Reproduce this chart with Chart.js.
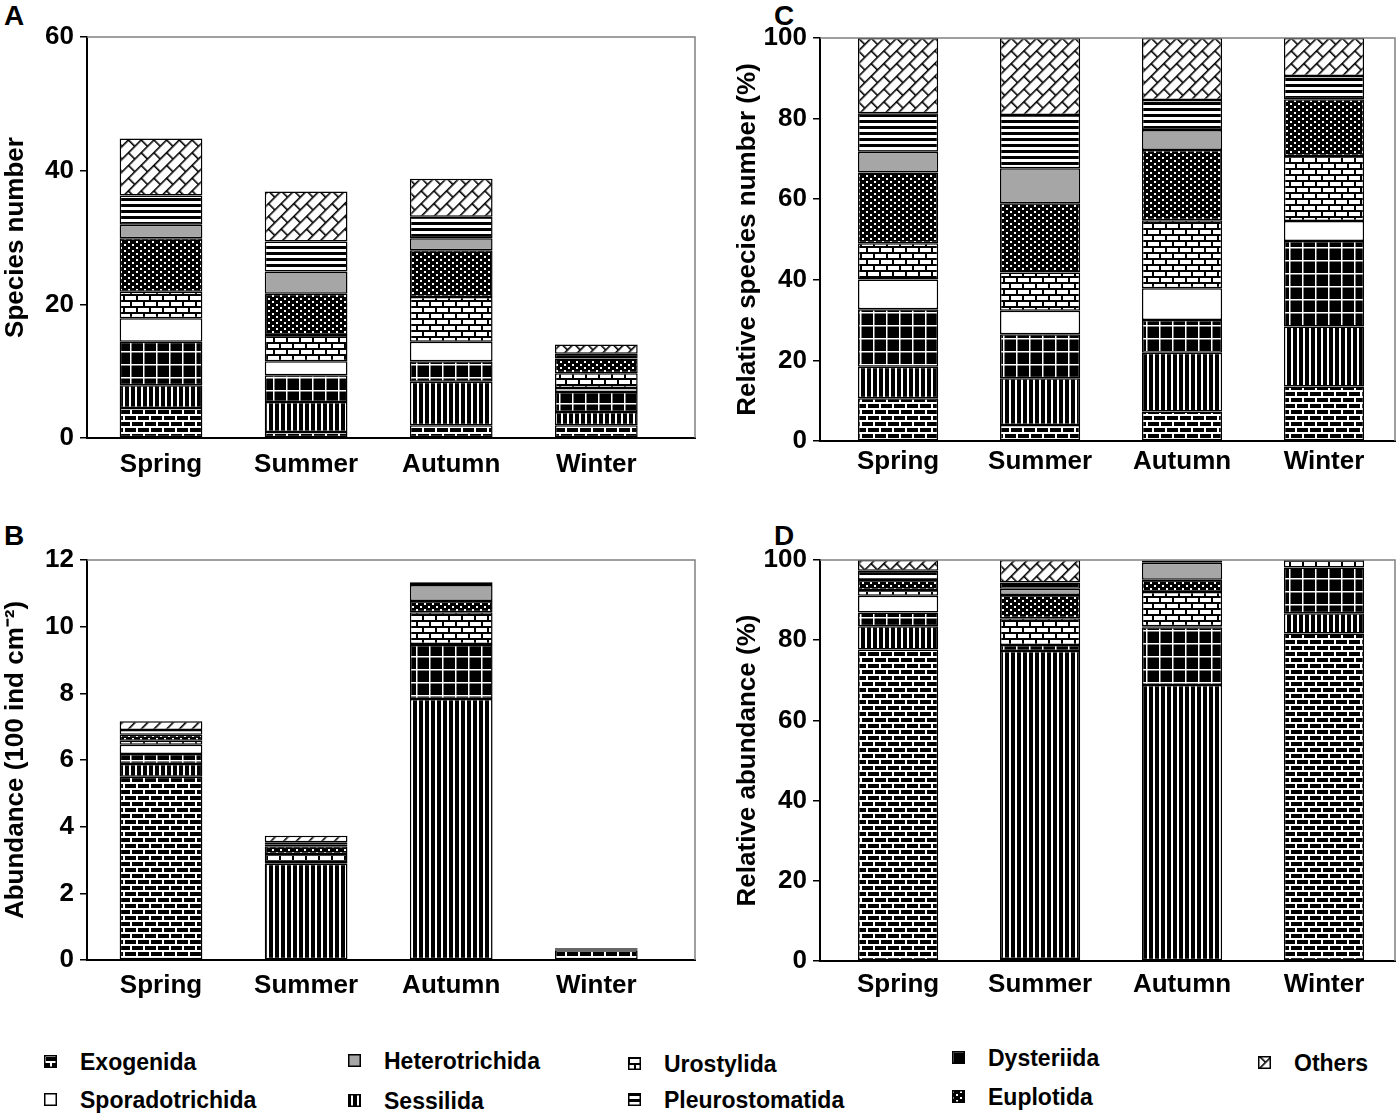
<!DOCTYPE html>
<html><head><meta charset="utf-8">
<script src="https://cdn.jsdelivr.net/npm/chart.js@4.4.1/dist/chart.umd.min.js"></script>
<style>
html,body{margin:0;padding:0;background:#fff;}
body{width:1400px;height:1115px;position:relative;overflow:hidden;font-family:'Liberation Sans',Arial,sans-serif;color:#000;}
.pn{position:absolute;}
.lt{position:absolute;font-weight:bold;font-size:28px;line-height:28px;}
.lg{position:absolute;height:26px;display:flex;align-items:center;font-weight:bold;font-size:23px;white-space:nowrap;}
.lg canvas{position:absolute;}
</style></head><body>
<div class="lt" style="left:4px;top:2px">A</div>
<div class="lt" style="left:4px;top:522px">B</div>
<div class="lt" style="left:774px;top:2px">C</div>
<div class="lt" style="left:774px;top:522px">D</div>
<canvas id="cA" class="pn" width="700" height="500" style="left:0;top:0"></canvas>
<canvas id="cB" class="pn" width="700" height="520" style="left:0;top:500px"></canvas>
<canvas id="cC" class="pn" width="670" height="500" style="left:730px;top:0"></canvas>
<canvas id="cD" class="pn" width="670" height="520" style="left:730px;top:500px"></canvas>
<div id="legend"></div>
<script>
// ---------- data ----------
const seasons = ['Spring', 'Summer', 'Autumn', 'Winter'];
const groups = ['Exogenida', 'Sessilida', 'Dysteriida', 'Sporadotrichida', 'Urostylida',
                'Euplotida', 'Heterotrichida', 'Pleurostomatida', 'Others'];

// A: species number (rows follow `groups`, columns follow `seasons`)
const speciesNumber = [
  [4.5, 0.9, 1.9, 1.9],
  [3.4, 4.5, 6.5, 2.0],
  [6.5, 4.0, 3.1, 3.0],
  [3.5, 2.1, 2.9, 0.6],
  [4.0, 3.9, 6.7, 2.2],
  [8.0, 6.2, 7.0, 2.2],
  [2.0, 3.3, 1.8, 0.0],
  [4.4, 4.5, 3.2, 0.7],
  [8.5, 7.5, 5.7, 1.4]
];
// B: abundance (100 ind cm-2)
const abundance = [
  [5.50, 0.02, 0.02, 0.29],
  [0.38, 2.87, 7.81, 0.02],
  [0.30, 0.05, 1.62, 0.04],
  [0.28, 0.00, 0.03, 0.00],
  [0.12, 0.24, 0.95, 0.01],
  [0.18, 0.23, 0.34, 0.00],
  [0.00, 0.06, 0.48, 0.00],
  [0.14, 0.06, 0.07, 0.00],
  [0.26, 0.20, 0.02, 0.00]
];
// C: relative species number (%)
const relSpecies = [
  [10.6, 4.0, 7.3, 13.5],
  [7.8, 11.6, 14.6, 14.9],
  [14.3, 10.9, 8.1, 21.2],
  [7.4, 5.8, 7.9, 5.0],
  [9.0, 9.5, 16.9, 16.1],
  [17.5, 17.2, 17.4, 14.1],
  [5.2, 8.7, 5.0, 0.0],
  [9.5, 13.2, 7.4, 5.8],
  [18.7, 19.1, 15.4, 9.4]
];
// D: relative abundance (%)
const relAbundance = [
  [77.7, 0.5, 0.2, 81.7],
  [5.8, 76.8, 68.6, 5.0],
  [3.4, 1.5, 14.4, 11.4],
  [4.2, 0.0, 0.3, 0.0],
  [1.4, 6.7, 8.5, 1.9],
  [2.5, 5.8, 3.1, 0.0],
  [0.0, 1.5, 4.2, 0.0],
  [2.3, 1.6, 0.6, 0.0],
  [2.7, 5.6, 0.1, 0.0]
];

// ---------- fill patterns ----------
function tile(w, h, fn) { const c = document.createElement('canvas'); c.width = w; c.height = h; fn(c.getContext('2d'), w, h); return c; }
const pctx = document.createElement('canvas').getContext('2d');
function pat(c, m) { const p = pctx.createPattern(c, 'repeat'); if (m) p.setTransform(m); return p; }
function brick(bg, fg, w, h, lw) {
  return tile(w, h, (g) => {
    g.fillStyle = bg; g.fillRect(0, 0, w, h); g.fillStyle = fg;
    const r = Math.round(h / 2), o = Math.floor(w / 2);
    g.fillRect(0, 0, w, lw); g.fillRect(0, r, w, lw);
    g.fillRect(0, 0, lw, r); g.fillRect(o, r, lw, h - r);
  });
}
const fills = {
  Exogenida: pat(brick('#000', '#fff', 13, 12, 2)),
  Sessilida: pat(tile(6, 2, (g) => { g.fillStyle = '#000'; g.fillRect(0, 0, 6, 2); g.fillStyle = '#fff'; g.fillRect(3, 0, 2, 2); })),
  Dysteriida: pat(tile(13, 13, (g) => { g.fillStyle = '#000'; g.fillRect(0, 0, 13, 13); g.fillStyle = '#fff'; g.fillRect(0, 0, 13, 1.5); g.fillRect(0, 0, 1.5, 13); })),
  Sporadotrichida: '#ffffff',
  Urostylida: pat(brick('#fff', '#000', 13, 12, 2)),
  Euplotida: pat(tile(8, 6, (g) => { g.fillStyle = '#000'; g.fillRect(0, 0, 8, 6); g.fillStyle = '#fff'; g.fillRect(0, 1, 2, 2); g.fillRect(4, 4, 2, 2); })),
  Heterotrichida: '#a6a6a6',
  Pleurostomatida: pat(tile(2, 6, (g) => { g.fillStyle = '#fff'; g.fillRect(0, 0, 2, 6); g.fillStyle = '#000'; g.fillRect(0, 0, 2, 3); })),
  Others: pat(brick('#fff', '#000', 18, 18, 1.6), new DOMMatrix().rotate(-45))
};

// ---------- charts ----------
const FONT = "'Liberation Sans', Arial, sans-serif";
const framePlugin = {
  id: 'frame',
  afterDatasetsDraw(chart) {
    const a = chart.chartArea, g = chart.ctx;
    g.save(); g.strokeStyle = '#808080'; g.lineWidth = 1.5;
    g.beginPath(); g.moveTo(a.left, a.top); g.lineTo(a.right, a.top); g.lineTo(a.right, a.bottom); g.stroke();
    g.restore();
  }
};

function makeChart(id, rows, o) {
  const datasets = groups.map((name, gi) => ({
    label: name,
    data: rows[gi].map((v, si) => ({ x: si + 1, y: v })),
    backgroundColor: fills[name],
    borderColor: '#000',
    borderWidth: 1.5,
    borderSkipped: false,
    barPercentage: o.barPct,
    categoryPercentage: 1
  }));
  return new Chart(document.getElementById(id), {
    type: 'bar',
    data: { datasets },
    plugins: [framePlugin],
    options: {
      responsive: false, animation: false,
      layout: { padding: { top: o.padTop, right: 5, left: 0, bottom: 0 } },
      plugins: { legend: { display: false }, tooltip: { enabled: false } },
      scales: {
        x: {
          type: 'linear', stacked: true, offset: false, min: o.xmin, max: o.xmax,
          afterBuildTicks: (s) => { s.ticks = seasons.map((_, i) => ({ value: i + 1 })); },
          afterFit: (s) => { s.height = o.xHeight; },
          grid: { display: false, drawTicks: false },
          border: { display: true, color: '#000', width: 2 },
          ticks: { callback: (v) => seasons[Math.round(v) - 1] || '', color: '#000', padding: o.xPad, maxRotation: 0, autoSkip: false,
                   font: { family: FONT, size: 26, weight: 'bold' } }
        },
        y: {
          stacked: true, min: 0, max: o.ymax,
          afterFit: (s) => { s.width = o.yWidth; },
          grid: { drawOnChartArea: false, drawTicks: true, tickLength: 7, color: '#000', lineWidth: 1.5 },
          border: { display: true, color: '#000', width: 2 },
          ticks: { stepSize: o.step, color: '#000', padding: 6, font: { family: FONT, size: 26, weight: 'bold' } },
          title: { display: true, text: o.title, color: '#000', padding: { top: o.titlePad, bottom: 0 },
                   font: { family: FONT, size: 26, weight: 'bold' } }
        }
      }
    }
  });
}

makeChart('cA', speciesNumber, { padTop: 37, xHeight: 62, xPad: 11, yWidth: 87, xmin: 0.49, xmax: 4.68, barPct: 0.57, ymax: 60, step: 20, title: 'Species number', titlePad: 0 });
makeChart('cB', abundance, { padTop: 60, xHeight: 60, xPad: 10, yWidth: 87, xmin: 0.49, xmax: 4.68, barPct: 0.57, ymax: 12, step: 2, title: 'Abundance (100 ind cm⁻²)', titlePad: 0 });
makeChart('cC', relSpecies, { padTop: 38, xHeight: 59, xPad: 5, yWidth: 90, xmin: 0.45, xmax: 4.5, barPct: 0.565, ymax: 100, step: 20, title: 'Relative species number (%)', titlePad: 2 });
makeChart('cD', relAbundance, { padTop: 60, xHeight: 59, xPad: 8, yWidth: 90, xmin: 0.45, xmax: 4.5, barPct: 0.565, ymax: 100, step: 20, title: 'Relative abundance (%)', titlePad: 2 });

// ---------- legend ----------
const legendSpots = [
  ['Exogenida', 80, 1062], ['Heterotrichida', 384, 1061], ['Urostylida', 664, 1064], ['Dysteriida', 988, 1058], ['Others', 1294, 1063],
  ['Sporadotrichida', 80, 1100], ['Sessilida', 384, 1101], ['Pleurostomatida', 664, 1100], ['Euplotida', 988, 1097]
];
const lg = document.getElementById('legend');
legendSpots.forEach(([name, x, cy]) => {
  const d = document.createElement('div');
  d.className = 'lg'; d.style.left = x + 'px'; d.style.top = (cy - 13) + 'px';
  const c = document.createElement('canvas'); c.width = 13; c.height = 13;
  c.style.left = '-36px'; c.style.top = '6px';
  const g = c.getContext('2d');
  g.fillStyle = fills[name]; g.fillRect(0, 0, 13, 13);
  g.strokeStyle = '#000'; g.lineWidth = 1.5; g.strokeRect(0.75, 0.75, 11.5, 11.5);
  d.appendChild(c);
  d.appendChild(document.createTextNode(name));
  lg.appendChild(d);
});
</script>
</body></html>
